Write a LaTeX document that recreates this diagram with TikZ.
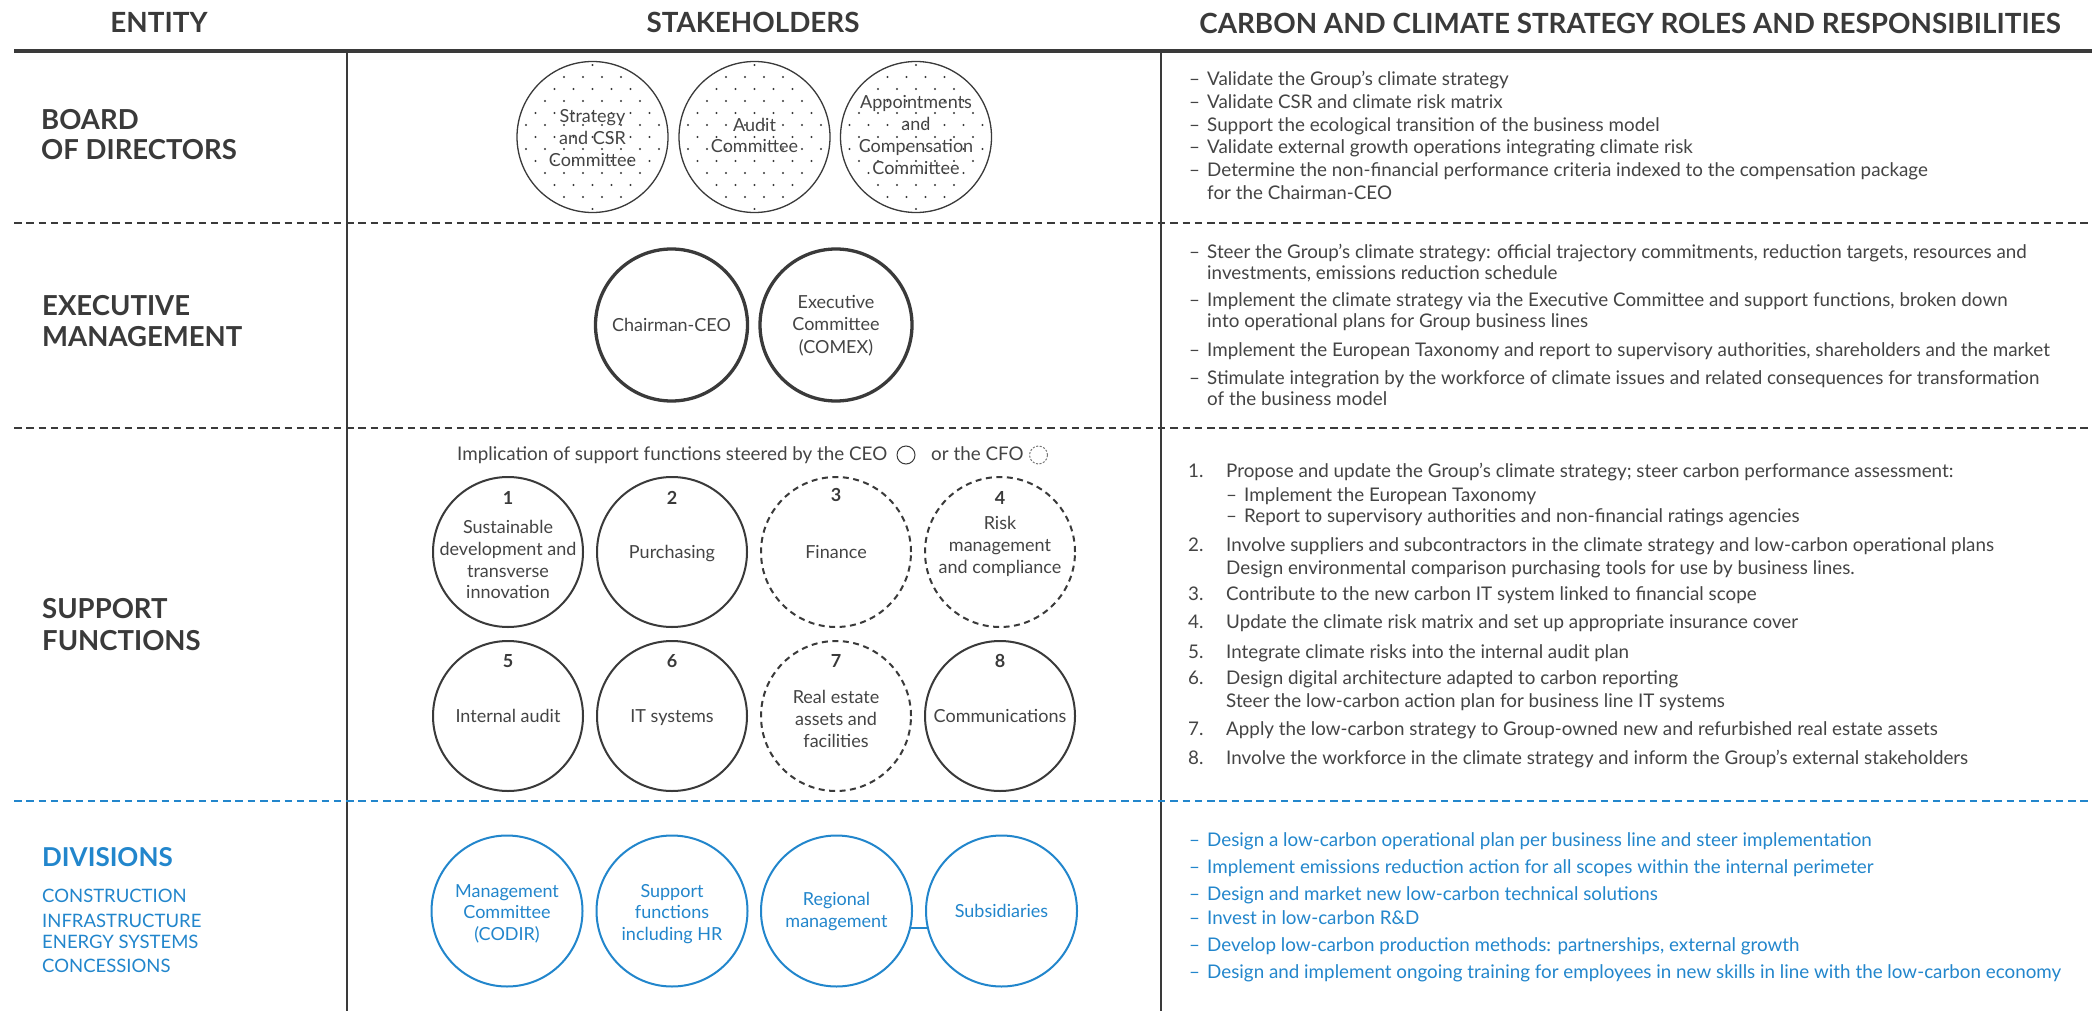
\documentclass[tikz,border=0pt]{standalone}
\usepackage{fontspec}
\setmainfont{Lato}
\usetikzlibrary{calc}
\definecolor{ink}{RGB}{58,58,58}
\definecolor{txt}{RGB}{68,68,68}
\definecolor{vblue}{RGB}{34,134,204}
\begin{document}
\begin{tikzpicture}[x=1pt,y=-1pt,
  hdr/.style={font=\fontsize{27.8}{30}\selectfont\bfseries, text=ink, inner sep=0pt, anchor=base},
  ent/.style={font=\fontsize{27.5}{30}\selectfont\bfseries, text=ink, inner sep=0pt, anchor=base west},
  entsub/.style={font=\fontsize{18.5}{22}\selectfont, text=vblue, inner sep=0pt, anchor=base west},
  body/.style={font=\fontsize{18.8}{22}\selectfont, text=txt, inner sep=0pt, anchor=base west},
  bblue/.style={body, text=vblue},
  ctext/.style={font=\fontsize{18}{22}\selectfont, text=txt, inner sep=0pt, anchor=base},
  ctblue/.style={ctext, text=vblue},
  cnum/.style={font=\fontsize{18}{22}\selectfont\bfseries, text=ink, inner sep=0pt, anchor=base},
  brdcirc/.style={circle, draw=ink, line width=1.3pt, minimum size=151pt, inner sep=0pt},
  execcirc/.style={circle, draw=ink, line width=3.3pt, minimum size=152pt, inner sep=0pt},
  fncirc/.style={circle, draw=ink, line width=2pt, minimum size=150pt, inner sep=0pt},
  cfocirc/.style={fncirc, dash pattern=on 6pt off 4.5pt},
  divcirc/.style={circle, draw=vblue, line width=2pt, minimum size=151pt, inner sep=0pt},
  sepline/.style={draw=ink, line width=1.6pt, dash pattern=on 7.5pt off 4.8pt},
  sepblue/.style={sepline, draw=vblue},
  rule/.style={draw=ink, line width=1.5pt}
]
\useasboundingbox[fill=white] (0,0) rectangle (2092,1011);

% ---------- frame lines ----------
\coordinate (topL) at (14,51);
\coordinate (topR) at (2092,51);
\draw[draw=ink, line width=3.8pt] (topL) -- (topR);
\coordinate (v1t) at (347,51);  \coordinate (v1b) at (347,1011);
\coordinate (v2t) at (1161,51); \coordinate (v2b) at (1161,1011);
\draw[rule] (v1t) -- (v1b);
\draw[rule] (v2t) -- (v2b);
\coordinate (d1l) at (14,223); \coordinate (d1r) at (2092,223);
\coordinate (d2l) at (14,428); \coordinate (d2r) at (2092,428);
\coordinate (d3l) at (14,801); \coordinate (d3r) at (2092,801);
\draw[sepline] (d1l) -- (d1r);
\draw[sepline] (d2l) -- (d2r);
\draw[sepblue] (d3l) -- (d3r);

% ---------- headers ----------
\node[hdr] (hEnt) at (159,33) {ENTITY};
\node[hdr] (hStk) at (753,33) {STAKEHOLDERS};
\node[hdr] (hRole) at (1630,34) {CARBON AND CLIMATE STRATEGY ROLES AND RESPONSIBILITIES};

% ---------- entity labels ----------
\node[ent] (eB1) at (41,130) {BOARD};
\node[ent] (eB2) at (41,160) {OF DIRECTORS};
\node[ent] (eE1) at (42,315) {EXECUTIVE};
\node[ent] (eE2) at (42,346) {MANAGEMENT};
\node[ent] (eS1) at (42,618) {SUPPORT};
\node[ent] (eS2) at (42,650) {FUNCTIONS};
\node[ent, text=vblue, font=\fontsize{26}{30}\selectfont\bfseries] (eD1) at (42,866) {DIVISIONS};
\node[entsub] (eD2) at (42,902) {CONSTRUCTION};
\node[entsub] (eD3) at (42,927) {INFRASTRUCTURE};
\node[entsub] (eD4) at (42,948) {ENERGY SYSTEMS};
\node[entsub] (eD5) at (42,972) {CONCESSIONS};

% ---------- board circles ----------
\node[brdcirc] (b1) at (592.5,137) {};
\node[brdcirc] (b2) at (754.5,137) {};
\node[brdcirc] (b3) at (916,137) {};
\foreach \b in {b1,b2,b3}{
  \begin{scope}
    \clip (\b.center) circle[radius=73];
    \foreach \r in {-6,...,6}{
      \foreach \c in {-4,...,4}{
        \fill[ink, shift={(\b.center)}] ({19*\c+9.5*mod(abs(\r),2)},{12*\r}) circle[radius=1.1];
      }
    }
  \end{scope}
}
\node[ctext] (b1t1) at (592.5,123) {Strategy};
\node[ctext] (b1t2) at (592.5,145) {and CSR};
\node[ctext] (b1t3) at (592.5,167) {Committee};
\node[ctext] (b2t1) at (754.5,132) {Audit};
\node[ctext] (b2t2) at (754.5,153) {Committee};
\node[ctext] (b3t1) at (916,109) {Appointments};
\node[ctext] (b3t2) at (916,131) {and};
\node[ctext] (b3t3) at (916,153) {Compensation};
\node[ctext] (b3t4) at (916,175) {Committee};

% ---------- executive circles ----------
\node[execcirc] (ceo) at (671.5,325) {};
\node[execcirc] (comex) at (836,325) {};
\node[ctext] (ceot) at (671.5,331) {Chairman-CEO};
\node[ctext] (cxt1) at (836,308) {Executive};
\node[ctext] (cxt2) at (836,330.5) {Committee};
\node[ctext] (cxt3) at (836,353) {(COMEX)};

% ---------- support functions ----------
\node[body] (cap1) at (457,460) {Implication of support functions steered by the CEO};
\node[circle, draw=ink, line width=1pt, minimum size=18pt, inner sep=0pt] (ceoicon) at (906,455) {};
\node[body] (cap2) at (931,460) {or the CFO};
\node[circle, draw=ink!70, line width=1pt, minimum size=18pt, inner sep=0pt, dash pattern=on 2pt off 1.6pt] (cfoicon) at (1038.5,455) {};

\node[fncirc] (s1) at (508,552) {};
\node[fncirc] (s2) at (672,552) {};
\node[cfocirc] (s3) at (836,552) {};
\node[cfocirc] (s4) at (1000,552) {};
\node[fncirc] (s5) at (508,716) {};
\node[fncirc] (s6) at (672,716) {};
\node[cfocirc] (s7) at (836,716) {};
\node[fncirc] (s8) at (1000,716) {};

\node[cnum] (n1) at (508,504) {1};
\node[cnum] (n2) at (672,504) {2};
\node[cnum] (n3) at (836,501) {3};
\node[cnum] (n4) at (1000,504) {4};
\node[cnum] (n5) at (508,667) {5};
\node[cnum] (n6) at (672,667) {6};
\node[cnum] (n7) at (836,667) {7};
\node[cnum] (n8) at (1000,667) {8};

\node[ctext] (s1t1) at (508,533) {Sustainable};
\node[ctext] (s1t2) at (508,555) {development and};
\node[ctext] (s1t3) at (508,577) {transverse};
\node[ctext] (s1t4) at (508,598) {innovation};
\node[ctext] (s2t1) at (672,558) {Purchasing};
\node[ctext] (s3t1) at (836,558) {Finance};
\node[ctext] (s4t1) at (1000,529) {Risk};
\node[ctext] (s4t2) at (1000,551) {management};
\node[ctext] (s4t3) at (1000,573) {and compliance};
\node[ctext] (s5t1) at (508,722) {Internal audit};
\node[ctext] (s6t1) at (672,722) {IT systems};
\node[ctext] (s7t1) at (836,703) {Real estate};
\node[ctext] (s7t2) at (836,725) {assets and};
\node[ctext] (s7t3) at (836,747) {facilities};
\node[ctext] (s8t1) at (1000,722) {Communications};

% ---------- divisions circles ----------
\node[divcirc] (codir) at (507,911) {};
\node[divcirc] (hr) at (672,911) {};
\node[divcirc] (reg) at (836.5,911) {};
\node[divcirc] (sub) at (1001.5,911) {};
\draw[vblue, line width=2pt] (reg.-13.7) -- (sub.193.7);
\node[ctblue] (cdt1) at (507,897) {Management};
\node[ctblue] (cdt2) at (507,918.5) {Committee};
\node[ctblue] (cdt3) at (507,940.5) {(CODIR)};
\node[ctblue] (hrt1) at (672,897) {Support};
\node[ctblue] (hrt2) at (672,918.5) {functions};
\node[ctblue] (hrt3) at (672,940.5) {including HR};
\node[ctblue] (rgt1) at (836.5,905) {Regional};
\node[ctblue] (rgt2) at (836.5,927) {management};
\node[ctblue] (sbt1) at (1001.5,917) {Subsidiaries};

% ---------- roles: board ----------
\node[body] (rb1d) at (1189,86) {–};
\node[body] (rb1) at (1207,86) {Validate the Group's climate strategy};
\node[body] (rb2d) at (1189,108.7) {–};
\node[body] (rb2) at (1207,108.7) {Validate CSR and climate risk matrix};
\node[body] (rb3d) at (1189,131.3) {–};
\node[body] (rb3) at (1207,131.3) {Support the ecological transition of the business model};
\node[body] (rb4d) at (1189,154) {–};
\node[body] (rb4) at (1207,154) {Validate external growth operations integrating climate risk};
\node[body] (rb5d) at (1189,176.6) {–};
\node[body] (rb5) at (1207,176.6) {Determine the non-financial performance criteria indexed to the compensation package};
\node[body] (rb6) at (1207,199.3) {for the Chairman-CEO};

% ---------- roles: executive ----------
\node[body] (re1d) at (1189,258.3) {–};
\node[body] (re1) at (1207,258.3) {Steer the Group's climate strategy: official trajectory commitments, reduction targets, resources and};
\node[body] (re1b) at (1207,279.3) {investments, emissions reduction schedule};
\node[body] (re2d) at (1189,306.7) {–};
\node[body] (re2) at (1207,306.7) {Implement the climate strategy via the Executive Committee and support functions, broken down};
\node[body] (re2b) at (1207,327.7) {into operational plans for Group business lines};
\node[body] (re3d) at (1189,356.7) {–};
\node[body] (re3) at (1207,356.7) {Implement the European Taxonomy and report to supervisory authorities, shareholders and the market};
\node[body] (re4d) at (1189,384) {–};
\node[body] (re4) at (1207,384) {Stimulate integration by the workforce of climate issues and related consequences for transformation};
\node[body] (re4b) at (1207,405) {of the business model};

% ---------- roles: support ----------
\node[body] (rs1n) at (1188,477.5) {1.};
\node[body] (rs1) at (1226,477.5) {Propose and update the Group's climate strategy; steer carbon performance assessment:};
\node[body] (rs1ad) at (1226,501) {–};
\node[body] (rs1a) at (1244,501) {Implement the European Taxonomy};
\node[body] (rs1bd) at (1226,522.5) {–};
\node[body] (rs1b) at (1244,522.5) {Report to supervisory authorities and non-financial ratings agencies};
\node[body] (rs2n) at (1188,551.5) {2.};
\node[body] (rs2) at (1226,551.5) {Involve suppliers and subcontractors in the climate strategy and low-carbon operational plans};
\node[body] (rs2b) at (1226,574) {Design environmental comparison purchasing tools for use by business lines.};
\node[body] (rs3n) at (1188,600.5) {3.};
\node[body] (rs3) at (1226,600.5) {Contribute to the new carbon IT system linked to financial scope};
\node[body] (rs4n) at (1188,628.5) {4.};
\node[body] (rs4) at (1226,628.5) {Update the climate risk matrix and set up appropriate insurance cover};
\node[body] (rs5n) at (1188,658) {5.};
\node[body] (rs5) at (1226,658) {Integrate climate risks into the internal audit plan};
\node[body] (rs6n) at (1188,684.5) {6.};
\node[body] (rs6) at (1226,684.5) {Design digital architecture adapted to carbon reporting};
\node[body] (rs6b) at (1226,707.5) {Steer the low-carbon action plan for business line IT systems};
\node[body] (rs7n) at (1188,735) {7.};
\node[body] (rs7) at (1226,735) {Apply the low-carbon strategy to Group-owned new and refurbished real estate assets};
\node[body] (rs8n) at (1188,764) {8.};
\node[body] (rs8) at (1226,764) {Involve the workforce in the climate strategy and inform the Group's external stakeholders};

% ---------- roles: divisions ----------
\node[bblue] (rd1d) at (1189,846) {–};
\node[bblue] (rd1) at (1207,846) {Design a low-carbon operational plan per business line and steer implementation};
\node[bblue] (rd2d) at (1189,873) {–};
\node[bblue] (rd2) at (1207,873) {Implement emissions reduction action for all scopes within the internal perimeter};
\node[bblue] (rd3d) at (1189,900.5) {–};
\node[bblue] (rd3) at (1207,900.5) {Design and market new low-carbon technical solutions};
\node[bblue] (rd4d) at (1189,924.6) {–};
\node[bblue] (rd4) at (1207,924.6) {Invest in low-carbon R\&D};
\node[bblue] (rd5d) at (1189,951.7) {–};
\node[bblue] (rd5) at (1207,951.7) {Develop low-carbon production methods: partnerships, external growth};
\node[bblue] (rd6d) at (1189,978.3) {–};
\node[bblue] (rd6) at (1207,978.3) {Design and implement ongoing training for employees in new skills in line with the low-carbon economy};
\end{tikzpicture}
\end{document}
